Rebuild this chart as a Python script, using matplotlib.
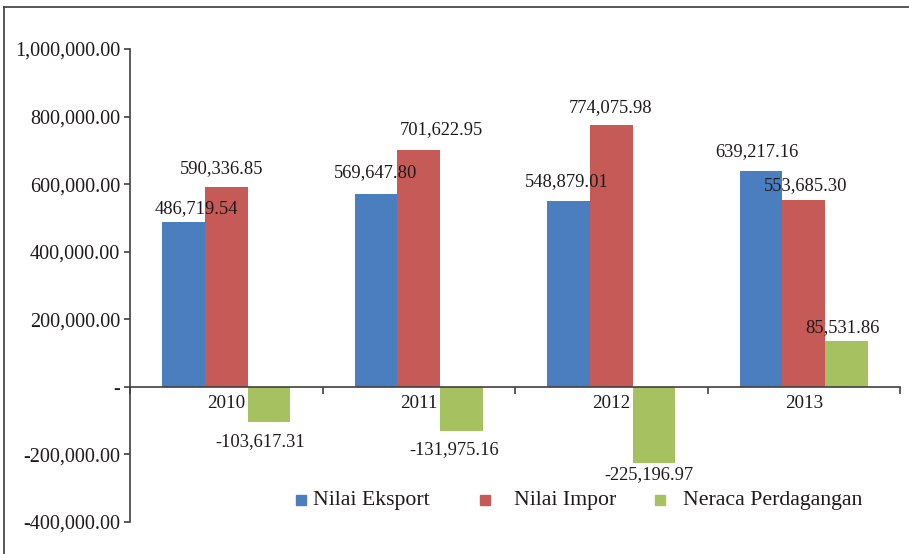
import matplotlib
matplotlib.use("Agg")
import matplotlib.pyplot as plt
from matplotlib.lines import Line2D
from matplotlib.patches import Rectangle
from matplotlib.ticker import FixedLocator, FuncFormatter

# ---- data ----
years = ["2010", "2011", "2012", "2013"]
eksport = [486719.54, 569647.80, 548879.01, 639217.16]
impor = [590336.85, 701622.95, 774075.98, 553685.30]
neraca = [-103617.31, -131975.16, -225196.97, 85531.86]
# bar heights of the balance series as drawn in the picture (2013 bar drawn taller than its label)
neraca_drawn = [-103617.31, -131975.16, -225196.97, 136000.0]
series_names = ["Nilai Eksport", "Nilai Impor", "Neraca Perdagangan"]
y_ticks = [-400000, -200000, 0, 200000, 400000, 600000, 800000, 1000000]

colors = ["#4A7EBF", "#C65A56", "#A6C260"]
text_color = "#1E1A1B"
axis_color = "#404040"
FONT = ["Liberation Serif", "DejaVu Serif"]
plt.rcParams["font.family"] = FONT

W, H = 909, 554
fig = plt.figure(figsize=(W / 100, H / 100), dpi=100)
ax = fig.add_axes([130 / W, 1 - 522 / H, (900 - 130) / W, (522 - 49) / H])

bw = 0.221
xs = list(range(len(years)))
label_vals = [eksport, impor, neraca]
bar_vals = [eksport, impor, neraca_drawn]
# label offsets in pixels (dx, dy) relative to bar end
offsets = [
    [(13, 13.5), (-1, 21.5), (-2, 19.5), (-4, 19)],
    [(-5, 18.5), (23, 20), (-1, 17.4), (2, 14)],
    [(-9, -20), (-7, -18.4), (-5, -12), (-4, 13)],
]

for si in range(3):
    pos = [x + (si - 1) * bw for x in xs]
    ax.bar(pos, bar_vals[si], width=bw, color=colors[si], zorder=2)
    for i, x in enumerate(pos):
        v = bar_vals[si][i]
        dx, dy = offsets[si][i]
        ax.annotate(f"{label_vals[si][i]:,.2f}", xy=(x, v), xytext=(dx, dy),
                    textcoords="offset pixels", ha="center", va="center",
                    fontsize=13.3, color=text_color, zorder=5)

ax.set_xlim(-0.5, 3.5)
ax.set_ylim(-400000, 1000000)

for s in ["top", "right"]:
    ax.spines[s].set_visible(False)
ax.spines["bottom"].set_position(("data", 0))
ax.spines["left"].set_bounds(-400000, 1000000)
for s in ["left", "bottom"]:
    ax.spines[s].set_color(axis_color)
    ax.spines[s].set_linewidth(1.2)
    ax.spines[s].set_zorder(3)

ax.yaxis.set_major_locator(FixedLocator(y_ticks))


def yfmt(v, p):
    if v == 0:
        return "-"
    return f"{v:,.2f}"


ax.yaxis.set_major_formatter(FuncFormatter(yfmt))
ax.tick_params(axis="y", direction="out", length=4.5, width=1.2, color=axis_color,
               labelsize=14.5, labelcolor=text_color, pad=2.5)

ax.xaxis.set_major_locator(FixedLocator([-0.5, 0.5, 1.5, 2.5, 3.5]))
ax.xaxis.set_major_formatter(FuncFormatter(lambda v, p: ""))
ax.xaxis.set_minor_locator(FixedLocator(xs))
ax.set_xticklabels(years, minor=True)
ax.tick_params(axis="x", which="major", direction="out", length=5, width=1.2, color=axis_color)
ax.tick_params(axis="x", which="minor", length=0, labelsize=13.8, labelcolor=text_color, pad=6)

# legend drawn at the bottom
leg_sq = [296, 480, 655]
leg_tx = [313, 514, 683]
leg_y = 500
for i in range(3):
    fig.patches.append(Rectangle(((leg_sq[i]) / W, 1 - (leg_y + 5) / H), 10 / W, 10 / H,
                                 transform=fig.transFigure, color=colors[i]))
    fig.text(leg_tx[i] / W, 1 - leg_y / H, series_names[i], fontsize=15.7,
             color=text_color, ha="left", va="center")

# outer frame (top and left)
fig.add_artist(Line2D([4 / W, 4 / W], [0, 1 - 7 / H], transform=fig.transFigure,
                      color="#3a3a3a", linewidth=1.2))
fig.add_artist(Line2D([4 / W, 1], [1 - 7 / H, 1 - 7 / H], transform=fig.transFigure,
                      color="#3a3a3a", linewidth=1.2))

fig.savefig("out.png", dpi=100)
